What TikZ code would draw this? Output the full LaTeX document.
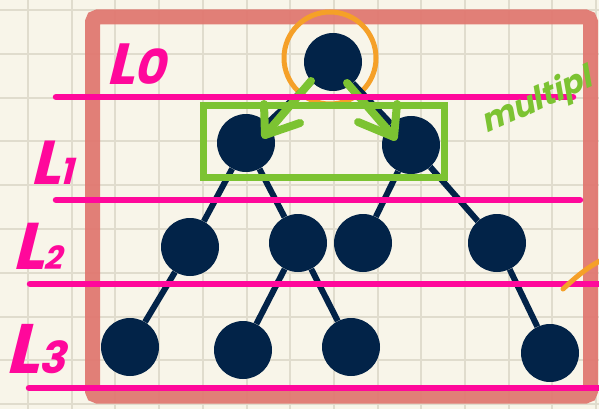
\documentclass[tikz,border=0pt]{standalone}
\usepackage{fontspec}
\newfontfamily\hand{Poppins}[FakeSlant=0.25]
\definecolor{paper}{RGB}{248,245,233}
\definecolor{gridc}{RGB}{224,220,205}
\definecolor{salmon}{RGB}{224,117,110}
\definecolor{hotpink}{RGB}{255,8,155}
\definecolor{navy}{RGB}{2,35,72}
\definecolor{lgreen}{RGB}{124,195,50}
\definecolor{orng}{RGB}{245,160,40}
\tikzset{
  gridline/.style={gridc, line width=2pt},
  frame/.style={salmon, opacity=0.92, line width=15pt, rounded corners=5pt},
  level/.style={hotpink, line width=6.5pt, line cap=round},
  dot/.style={circle, fill=navy, minimum size=58pt, inner sep=0pt},
  edge/.style={navy, line width=6pt},
  gbox/.style={lgreen, line width=7pt},
  garrow/.style={lgreen, line width=8pt, line cap=round, line join=round},
  lab/.style={hotpink, anchor=base west, inner sep=0pt, font=\hand\bfseries},
}
\begin{document}
\begin{tikzpicture}[x=1pt,y=-1pt]
\useasboundingbox (0,0) rectangle (599,409);
\clip (0,0) rectangle (599,409);
\fill[paper] (0,0) rectangle (599,409);
\foreach \i in {0,...,13} \draw[gridline] ({28+43.7*\i},0) -- ++(0,409);
\foreach \j in {0,...,9} \draw[gridline] (0,{10+43.8*\j}) -- ++(599,0);
% frame
\draw[frame] (92.5,17) rectangle (590.5,396);
% orange ring
\node[draw=orng, line width=5pt, circle, minimum size=92pt, inner sep=0pt] (ring) at (330,58) {};
% nodes
\node[dot] (r) at (333,62) {};
\node[dot] (a) at (246,143) {};
\node[dot] (b) at (411,145) {};
\node[dot] (c) at (190,247) {};
\node[dot] (d) at (298,243) {};
\node[dot] (e) at (363,243) {};
\node[dot] (f) at (497,243) {};
\node[dot] (g) at (130,347) {};
\node[dot] (h) at (243,350) {};
\node[dot] (i) at (351,347) {};
\node[dot] (j) at (550,353) {};
\draw[edge] (r) -- (a);
\draw[edge] (r) -- (b);
\draw[edge] (a) -- (c);
\draw[edge] (a) -- (d);
\draw[edge] (b) -- (e);
\draw[edge] (b) -- (f);
\draw[edge] (c) -- (g);
\draw[edge] (d) -- (h);
\draw[edge] (d) -- (i);
\draw[edge] (f) -- (j);
% green box and arrows
\draw[gbox] (203,106) rectangle (444.5,177);
\coordinate (la0) at (311,81);
\coordinate (la1) at (265,135);
\coordinate (la2) at (264,104);
\coordinate (la3) at (300,123);
\coordinate (ra0) at (347,83);
\coordinate (ra1) at (394,137);
\coordinate (ra2) at (397,104);
\coordinate (ra3) at (358,122);
\draw[garrow] (la0) -- (la1);
\draw[garrow] (la2) -- (la1) -- (la3);
\draw[garrow] (ra0) -- (ra1);
\draw[garrow] (ra2) -- (ra1) -- (ra3);
% level lines
\coordinate (p0a) at (56,97);  \coordinate (p0b) at (573,97);
\coordinate (p1a) at (56,200); \coordinate (p1b) at (580,200);
\coordinate (p2a) at (30,284); \coordinate (p2b) at (612,284);
\coordinate (p3a) at (29,388); \coordinate (p3b) at (612,388);
\draw[level] (p0a) -- (p0b);
\draw[level] (p1a) -- (p1b);
\draw[level] (p2a) -- (p2b);
\draw[level] (p3a) -- (p3b);
% labels
\node[lab] (l0) at (106,85) {\fontsize{58}{58}\selectfont L\fontsize{48}{48}\selectfont 0};
\node[lab] (l1) at (30,184) {\fontsize{62}{62}\selectfont L\fontsize{36}{36}\selectfont 1};
\node[lab] (l2) at (12,269) {\fontsize{66}{66}\selectfont L\fontsize{32}{32}\selectfont 2};
\node[lab] (l3) at (5,373) {\fontsize{70}{70}\selectfont L\fontsize{44}{44}\selectfont 3};
% green note
\node[lgreen, anchor=base west, inner sep=0pt, rotate=24, font=\hand\bfseries\fontsize{32}{32}\selectfont] (note) at (486,134) {multipl};
% orange stroke
\coordinate (o1) at (563,289);
\coordinate (o2) at (606,258);
\draw[orng, line width=5pt, line cap=round] (o1) .. controls (575,278) and (588,266) .. (o2);
\end{tikzpicture}
\end{document}
